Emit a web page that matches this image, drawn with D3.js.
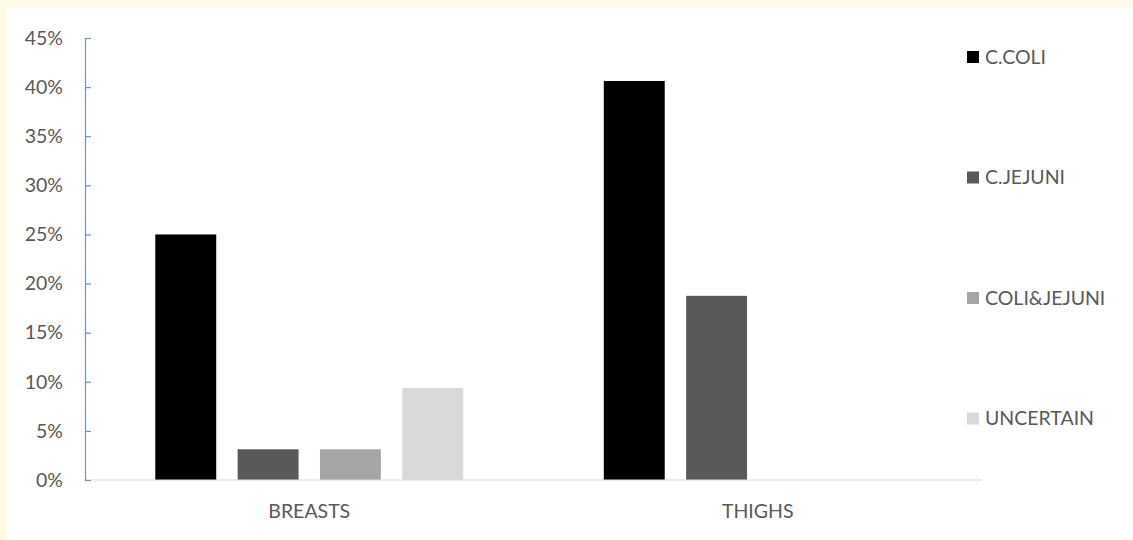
<!doctype html>
<html lang="en">
<head>
<meta charset="UTF-8">
<title>Campylobacter by cut</title>
<style>
  html, body { margin: 0; padding: 0; background: #fffae8; }
  svg { display: block; }
  text { font-family: Lato, "Open Sans", sans-serif; fill: #595959; }
</style>
</head>
<body>
<svg width="1133" height="540"></svg>

<script src="https://d3js.org/d3.v7.min.js"></script>
<script>
const categories = ['BREASTS', 'THIGHS'];
const seriesNames = ['C.COLI', 'C.JEJUNI', 'COLI&JEJUNI', 'UNCERTAIN'];
const seriesColors = ['#000000', '#595959', '#a5a5a5', '#d9d9d9'];
// percentages per category, in series order
const breasts = [25.0, 3.125, 3.125, 9.375];
const thighs = [40.625, 18.75, 0, 0];
const yTicks = [0, 5, 10, 15, 20, 25, 30, 35, 40, 45];

const values = [breasts, thighs];

const svg = d3.select('svg');

// white chart area
svg.append('rect')
    .attr('x', 7).attr('y', 8)
    .attr('width', 1126).attr('height', 532)
    .attr('fill', '#ffffff');

const x0 = d3.scaleBand()
    .domain(categories)
    .range([85, 982])
    .padding(0);

const x1 = d3.scaleBand()
    .domain(seriesNames)
    .range([0, x0.bandwidth()])
    .paddingInner(0.26)
    .paddingOuter(0.854);

const y = d3.scaleLinear()
    .domain([0, 45])
    .range([480, 38]);

const color = d3.scaleOrdinal()
    .domain(seriesNames)
    .range(seriesColors);

// bars
const groups = svg.selectAll('g.cat')
    .data(categories)
    .enter()
    .append('g')
    .attr('class', 'cat')
    .attr('transform', d => `translate(${x0(d)},0)`);

groups.selectAll('rect')
    .data((d, i) => seriesNames.map((s, j) => ({ s, v: values[i][j] })))
    .enter()
    .append('rect')
    .attr('x', d => x1(d.s))
    .attr('y', d => y(d.v))
    .attr('width', x1.bandwidth())
    .attr('height', d => y(0) - y(d.v))
    .attr('fill', d => color(d.s));

// x axis baseline
svg.append('line')
    .attr('x1', 85).attr('x2', 982)
    .attr('y1', y(0)).attr('y2', y(0))
    .attr('stroke', '#d9d9d9')
    .attr('stroke-width', 1.2);

// y axis
const yAxis = d3.axisRight(y)
    .tickValues(yTicks)
    .tickSize(6)
    .tickFormat('');

const yg = svg.append('g')
    .attr('transform', 'translate(85,0)')
    .call(yAxis);
yg.select('.domain').attr('stroke', '#6a93d8').attr('stroke-width', 1.2);
yg.selectAll('.tick line').attr('stroke', '#6a93d8').attr('stroke-width', 1.2);

svg.append('g')
    .selectAll('text')
    .data(yTicks)
    .enter()
    .append('text')
    .attr('x', 63)
    .attr('y', d => y(d))
    .attr('dy', '0.35em')
    .attr('text-anchor', 'end')
    .style('font-size', '19.5px')
    .text(d => d + '%');

// category labels
svg.append('g')
    .selectAll('text')
    .data(categories)
    .enter()
    .append('text')
    .attr('x', d => x0(d) + x0.bandwidth() / 2)
    .attr('y', 511)
    .attr('dy', '0.35em')
    .attr('text-anchor', 'middle')
    .style('font-size', '19.5px')
    .text(d => d);

// legend
const legend = svg.append('g')
    .selectAll('g')
    .data(seriesNames)
    .enter()
    .append('g')
    .attr('transform', (d, i) => `translate(967,${57 + i * 120.5})`);

legend.append('rect')
    .attr('x', 0).attr('y', -6)
    .attr('width', 12).attr('height', 12)
    .attr('fill', d => color(d));

legend.append('text')
    .attr('x', 18)
    .attr('y', 0)
    .attr('dy', '0.35em')
    .style('font-size', '19.5px')
    .text(d => d);
</script>
</body>
</html>
